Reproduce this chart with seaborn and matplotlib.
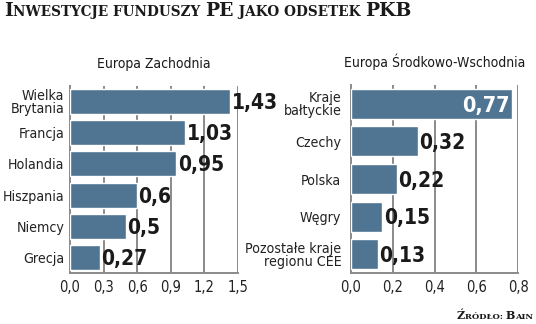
import matplotlib
matplotlib.use("Agg")
import matplotlib.pyplot as plt
import seaborn as sns
import pandas as pd
from matplotlib.offsetbox import TextArea, HPacker, AnchoredOffsetbox
from matplotlib.ticker import FuncFormatter

west_labels = ["Wielka\nBrytania", "Francja", "Holandia", "Hiszpania", "Niemcy", "Grecja"]
west_values = [1.43, 1.03, 0.95, 0.6, 0.5, 0.27]
east_labels = ["Kraje\nbałtyckie", "Czechy", "Polska", "Węgry", "Pozostałe kraje\nregionu CEE"]
east_values = [0.77, 0.32, 0.22, 0.15, 0.13]
west_ticks = [0.0, 0.3, 0.6, 0.9, 1.2, 1.5]
east_ticks = [0.0, 0.2, 0.4, 0.6, 0.8]

sns.set_theme(style="white")
plt.rcParams["font.family"] = ["DejaVu Sans"]
plt.rcParams["font.stretch"] = "condensed"

BAR = "#4f7592"
GRID = "#8a8a8a"

fig = plt.figure(figsize=(5.36, 3.24), dpi=100)
fig.patch.set_facecolor("white")

def fmt(v, _=None):
    return f"{v:.1f}".replace(".", ",")

def lab(v):
    s = f"{v:.2f}".rstrip("0")
    if s.endswith("."):
        s += "0"
    return s.replace(".", ",")

def panel(rect, labels, values, ticks, xmax, title, ypad, inside_first=False):
    ax = fig.add_axes(rect)
    df = pd.DataFrame({"cat": labels, "val": values})
    sns.barplot(data=df, x="val", y="cat", color=BAR, saturation=1, width=0.8, ax=ax, zorder=3)
    ax.set_xlim(0, xmax)
    ax.set_xticks(ticks)
    ax.xaxis.set_major_formatter(FuncFormatter(fmt))
    for t in ticks[1:]:
        ax.axvline(t, color=GRID, lw=1.4, zorder=1)
    for s in ["top", "right"]:
        ax.spines[s].set_visible(False)
    for s in ["left", "bottom"]:
        ax.spines[s].set_color(GRID)
        ax.spines[s].set_linewidth(1.4)
    ax.set_xlabel("")
    ax.set_ylabel("")
    ax.tick_params(axis="x", length=0, labelsize=10.5, colors="#222222", pad=5)
    ax.tick_params(axis="y", length=0, labelsize=10.2, colors="#222222", pad=ypad)
    for tl in ax.get_yticklabels() + ax.get_xticklabels():
        tl.set_fontstretch("condensed")
    for tl in ax.get_yticklabels():
        tl.set_linespacing(0.9)
    for i, v in enumerate(values):
        if inside_first and i == 0:
            ax.text(v - xmax * 0.01, i + 0.05, lab(v), ha="right", va="center", color="white",
                    fontsize=15.5, fontweight="bold", zorder=5)
        else:
            ax.text(v + xmax * 0.008, i + 0.05, lab(v), ha="left", va="center", color="#1a1a1a",
                    fontsize=15, fontweight="bold", zorder=5, clip_on=False)
    ax.set_title(title, fontsize=10, color="#1a1a1a", pad=13)
    return ax

panel([0.1306, 0.1574, 0.3134, 0.5772], west_labels, west_values, west_ticks, 1.5, "Europa Zachodnia", 4)
panel([0.6549, 0.1574, 0.3116, 0.5802], east_labels, east_values, east_ticks, 0.8, "Europa Środkowo-Wschodnia", 7, inside_first=True)

def smallcaps(parts, big, small, loc_xy, align):
    areas = []
    for txt, is_big in parts:
        areas.append(TextArea(txt, textprops=dict(family=["DejaVu Serif"], fontweight="bold", stretch="normal",
                                                    fontsize=big if is_big else small, color="#1a1a1a")))
    pack = HPacker(children=areas, align="baseline", pad=0, sep=0)
    box = AnchoredOffsetbox(loc=align, child=pack, pad=0, borderpad=0, frameon=False,
                            bbox_to_anchor=loc_xy, bbox_transform=fig.transFigure)
    fig.add_artist(box)

smallcaps([("I", True), ("NWESTYCJE FUNDUSZY ", False), ("PE", True), (" JAKO ODSETEK ", False), ("PKB", True)],
          13.5, 9.8, (0.008, 0.995), "upper left")
smallcaps([("Ź", True), ("RÓDŁO: ", False), ("B", True), ("AIN", False)],
          8, 6, (0.995, 0.01), "lower right")

fig.savefig("out.png", dpi=100, facecolor="white")
